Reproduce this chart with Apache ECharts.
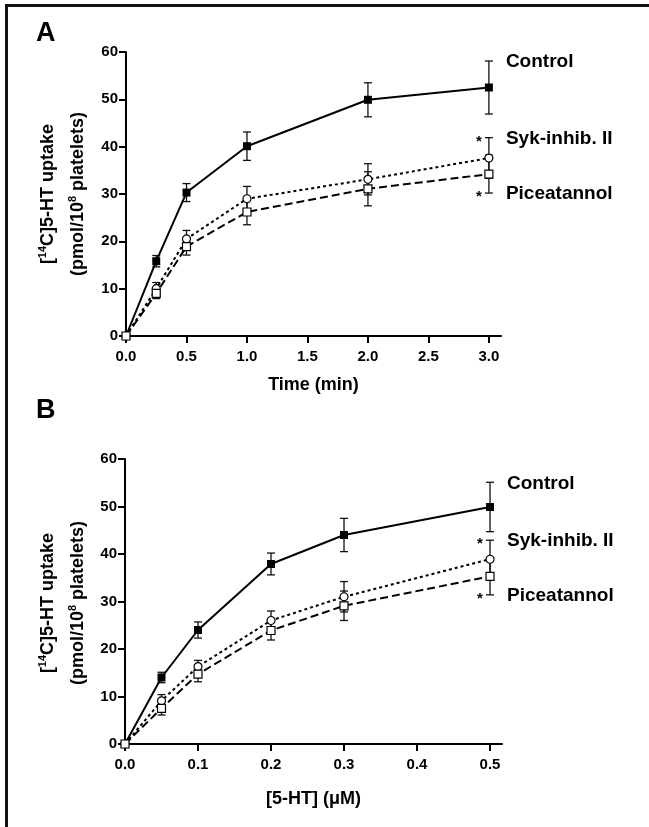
<!DOCTYPE html>
<html><head><meta charset="utf-8">
<script src="https://cdn.jsdelivr.net/npm/echarts@6/dist/echarts.min.js"></script>
<style>html,body{margin:0;padding:0;background:#fff}#c{width:649px;height:827px}</style>
</head><body><div id="c"></div>
<script>
// ---- Panel A: time course ----
const timeMin = [0, 0.25, 0.5, 1.0, 2.0, 3.0];
const ctrlA = [0, 15.8, 30.3, 40.1, 49.9, 52.5];
const ctrlAErr = [0, 1.2, 1.9, 3.0, 3.6, 5.6];
const sykA = [0, 10.0, 20.5, 29.0, 33.1, 37.6];
const sykAErr = [0, 1.3, 1.8, 2.6, 3.3, 4.3];
const piceA = [0, 9.0, 18.9, 26.2, 31.1, 34.2];
const piceAErr = [0, 1.1, 1.8, 2.7, 3.6, 4.0];
const xTicksA = [0, 0.5, 1.0, 1.5, 2.0, 2.5, 3.0];

// ---- Panel B: concentration dependence ----
const concUM = [0, 0.05, 0.1, 0.2, 0.3, 0.5];
const ctrlB = [0, 14.0, 24.0, 37.9, 44.0, 49.9];
const ctrlBErr = [0, 1.1, 1.7, 2.3, 3.5, 5.2];
const sykB = [0, 9.1, 16.3, 26.0, 31.0, 38.9];
const sykBErr = [0, 1.3, 1.3, 2.0, 3.2, 4.0];
const piceB = [0, 7.5, 14.7, 23.9, 29.1, 35.3];
const piceBErr = [0, 1.4, 1.6, 2.0, 3.1, 3.9];
const xTicksB = [0, 0.1, 0.2, 0.3, 0.4, 0.5];

const yTicks = [0, 10, 20, 30, 40, 50, 60];
const seriesNames = ['Control', 'Syk-inhib. II', 'Piceatannol'];

const FONT = '"Liberation Sans", Arial, Helvetica, sans-serif';
const INK = '#000';

function zip(xs, ys) { return xs.map((x, i) => [x, ys[i]]); }

function errSeries(g, xs, ys, es, label, side, star) {
  return {
    type: 'custom', xAxisIndex: g, yAxisIndex: g, z: 1, silent: true, clip: false,
    data: xs.map((x, i) => [x, ys[i], es[i], i]),
    encode: { x: 0, y: 1 },
    renderItem(params, api) {
      const x = api.value(0), y = api.value(1), e = api.value(2), i = api.value(3);
      const p = api.coord([x, y]);
      const hi = api.coord([x, y + e])[1], lo = api.coord([x, y - e])[1];
      const cw = 4;
      const ls = { stroke: '#111', lineWidth: 1.3 };
      const ch = [];
      if (e > 0) {
        ch.push({ type: 'line', shape: { x1: p[0], y1: hi, x2: p[0], y2: lo }, style: ls });
        ch.push({ type: 'line', shape: { x1: p[0] - cw, y1: hi, x2: p[0] + cw, y2: hi }, style: ls });
        ch.push({ type: 'line', shape: { x1: p[0] - cw, y1: lo, x2: p[0] + cw, y2: lo }, style: ls });
      }
      if (i === xs.length - 1) {
        const ly = side === 'top' ? hi : lo;
        ch.push({ type: 'text', x: p[0] + 17, y: ly + 1, style: { text: label, font: 'bold 19px ' + FONT, fill: INK, textAlign: 'left', textVerticalAlign: 'middle' } });
        if (star) ch.push({ type: 'text', x: p[0] - 10, y: ly + 4, style: { text: '*', font: 'bold 15px ' + FONT, fill: INK, textAlign: 'center', textVerticalAlign: 'middle' } });
      }
      return { type: 'group', children: ch };
    }
  };
}

function lineSeries(g, xs, ys, kind) {
  const base = { type: 'line', xAxisIndex: g, yAxisIndex: g, z: 3, data: zip(xs, ys), showSymbol: true, silent: true };
  if (kind === 0) return Object.assign(base, { symbol: 'rect', symbolSize: 8, itemStyle: { color: INK }, lineStyle: { color: INK, width: 2 } });
  if (kind === 1) return Object.assign(base, { symbol: 'circle', symbolSize: 8, itemStyle: { color: '#fff', borderColor: INK, borderWidth: 1.2 }, lineStyle: { color: INK, width: 2, type: [3, 3] } });
  return Object.assign(base, { symbol: 'rect', symbolSize: 8, itemStyle: { color: '#fff', borderColor: INK, borderWidth: 1.2 }, lineStyle: { color: INK, width: 2, type: [8, 4] } });
}

function xAxis(g, max, ticks, name, gap) {
  return {
    gridIndex: g, type: 'value', min: 0, max: max,
    name: name, nameLocation: 'middle', nameGap: gap,
    nameTextStyle: { fontFamily: FONT, fontWeight: 'bold', fontSize: 18, color: INK },
    axisLine: { show: true, onZero: false, lineStyle: { color: INK, width: 2 } },
    axisTick: { show: true, length: 7, lineStyle: { color: INK, width: 2 }, customValues: ticks },
    axisLabel: { customValues: ticks, formatter: v => v.toFixed(1), fontFamily: FONT, fontWeight: 'bold', fontSize: 15, color: INK, margin: 13 },
    splitLine: { show: false }
  };
}
function yAxis(g) {
  return {
    gridIndex: g, type: 'value', min: 0, max: 60, interval: 10,
    axisLine: { show: true, onZero: false, lineStyle: { color: INK, width: 2 } },
    axisTick: { show: true, length: 7, lineStyle: { color: INK, width: 2 }, customValues: yTicks },
    axisLabel: { customValues: yTicks, fontFamily: FONT, fontWeight: 'bold', fontSize: 15, color: INK, margin: 8 },
    splitLine: { show: false }
  };
}

function yTitle(cx, cy) {
  const rich = { s: { fontSize: 11, fontWeight: 'bold', fontFamily: FONT, verticalAlign: 'top', lineHeight: 11, fill: INK } };
  const common = { fontSize: 18, fontWeight: 'bold', fontFamily: FONT, fill: INK, lineHeight: 22, textAlign: 'center', textVerticalAlign: 'middle', rich };
  return [
    { type: 'text', x: cx - 15, y: cy, rotation: Math.PI / 2, style: Object.assign({ text: '[{s|14}C]5-HT uptake' }, common) },
    { type: 'text', x: cx + 15, y: cy, rotation: Math.PI / 2, style: Object.assign({ text: '(pmol/10{s|8} platelets)' }, common) }
  ];
}

const chart = echarts.init(document.getElementById('c'), null, { renderer: 'canvas' });
chart.setOption({
  animation: false,
  backgroundColor: '#fff',
  grid: [
    { left: 126, top: 52, width: 375, height: 284, containLabel: false },
    { left: 125, top: 459, width: 377, height: 285, containLabel: false }
  ],
  xAxis: [xAxis(0, 3.1, xTicksA, 'Time (min)', 40), xAxis(1, 0.5164, xTicksB, '[5-HT] (\u03bcM)', 46)],
  yAxis: [yAxis(0), yAxis(1)],
  series: [
    errSeries(0, timeMin, ctrlA, ctrlAErr, seriesNames[0], 'top', false),
    errSeries(0, timeMin, sykA, sykAErr, seriesNames[1], 'top', true),
    errSeries(0, timeMin, piceA, piceAErr, seriesNames[2], 'bottom', true),
    lineSeries(0, timeMin, ctrlA, 0),
    lineSeries(0, timeMin, sykA, 1),
    lineSeries(0, timeMin, piceA, 2),
    errSeries(1, concUM, ctrlB, ctrlBErr, seriesNames[0], 'top', false),
    errSeries(1, concUM, sykB, sykBErr, seriesNames[1], 'top', true),
    errSeries(1, concUM, piceB, piceBErr, seriesNames[2], 'bottom', true),
    lineSeries(1, concUM, ctrlB, 0),
    lineSeries(1, concUM, sykB, 1),
    lineSeries(1, concUM, piceB, 2)
  ],
  graphic: [
    { type: 'line', shape: { x1: 5, y1: 5.5, x2: 649, y2: 5.5 }, style: { stroke: '#111', lineWidth: 3 } },
    { type: 'line', shape: { x1: 6.5, y1: 4, x2: 6.5, y2: 827 }, style: { stroke: '#111', lineWidth: 3 } },
    { type: 'text', x: 36, y: 34, style: { text: 'A', font: 'bold 27px ' + FONT, fill: INK, textAlign: 'left', textVerticalAlign: 'middle' } },
    { type: 'text', x: 36, y: 411, style: { text: 'B', font: 'bold 27px ' + FONT, fill: INK, textAlign: 'left', textVerticalAlign: 'middle' } }
  ].concat(yTitle(63, 194), yTitle(63, 603))
});
</script>
</body></html>
